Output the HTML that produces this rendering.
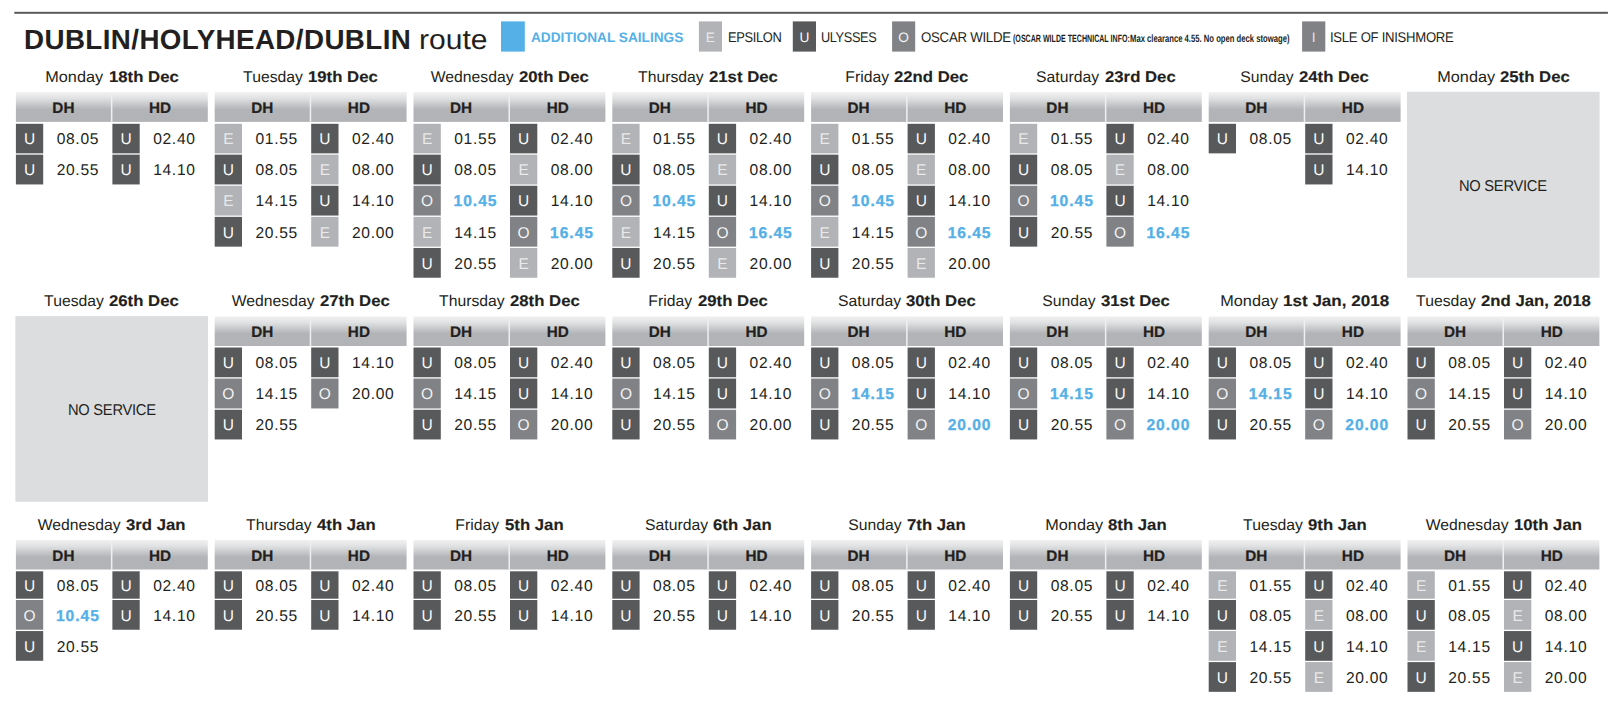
<!DOCTYPE html>
<html lang="en">
<head>
<meta charset="utf-8">
<title>DUBLIN/HOLYHEAD/DUBLIN route</title>
<style>
html,body{margin:0;padding:0;background:#fff;}
body{width:1621px;height:707px;position:relative;overflow:hidden;font-family:"Liberation Sans",sans-serif;color:#231f20;text-rendering:geometricPrecision;}
svg{position:absolute;left:0;top:0;}
h1,h2{margin:0;font-weight:400;font-size:inherit;}
.a{position:absolute;white-space:nowrap;line-height:1;transform-origin:0 50%;}
.t{position:absolute;white-space:nowrap;line-height:1;font-size:15.5px;font-weight:400;margin:0;text-align:center;width:191.9px;}
.t span{display:inline-block;transform:scaleX(1.015);transform-origin:100% 50%;}
.t b{display:inline-block;transform:scaleX(1.08);transform-origin:0 50%;margin-left:1px;-webkit-text-stroke:0.15px #231f20;}
.hl{position:absolute;-webkit-text-stroke:0.2px #231f20;font-weight:700;font-size:15.3px;line-height:1;text-align:center;white-space:nowrap;}
.b{position:absolute;text-align:center;font-size:15.5px;line-height:1;width:27.3px;}
.m{position:absolute;white-space:nowrap;font-size:15.6px;line-height:1;text-align:center;width:70px;letter-spacing:0.7px;}
.m.x{color:#54b0e6;font-weight:700;letter-spacing:0.95px;-webkit-text-stroke:0.3px #54b0e6;}
</style>
</head>
<body>
<svg width="1621" height="707" viewBox="0 0 1621 707">
<defs><linearGradient id="hg" x1="0" y1="0" x2="0" y2="1"><stop offset="0" stop-color="#f1f1f2"/><stop offset="0.2" stop-color="#e1e2e3"/><stop offset="0.58" stop-color="#b2b4b7"/><stop offset="1" stop-color="#b1b3b6"/></linearGradient></defs>
<rect x="14.30" y="11.80" width="1593.60" height="2.00" fill="#58595b"/>
<rect x="501.00" y="21.40" width="23.80" height="30.20" fill="#54b0e6"/>
<rect x="698.90" y="21.40" width="23.10" height="30.20" fill="#b1b3b6"/>
<rect x="792.80" y="21.40" width="23.20" height="30.20" fill="#58595b"/>
<rect x="892.10" y="21.40" width="23.10" height="30.20" fill="#808285"/>
<rect x="1302.10" y="21.40" width="23.20" height="30.20" fill="#808285"/>
<rect x="15.90" y="92.10" width="191.90" height="29.80" fill="url(#hg)"/>
<rect x="110.90" y="92.10" width="1.50" height="29.80" fill="#efeff0"/>
<rect x="15.90" y="123.80" width="27.30" height="29.55" fill="#58595b"/>
<rect x="15.90" y="154.65" width="27.30" height="29.80" fill="#58595b"/>
<rect x="112.40" y="123.80" width="27.30" height="29.55" fill="#58595b"/>
<rect x="112.40" y="154.65" width="27.30" height="29.80" fill="#58595b"/>
<rect x="214.70" y="92.10" width="191.90" height="29.80" fill="url(#hg)"/>
<rect x="309.70" y="92.10" width="1.50" height="29.80" fill="#efeff0"/>
<rect x="214.70" y="123.80" width="27.30" height="29.55" fill="#b1b3b6"/>
<rect x="214.70" y="154.65" width="27.30" height="29.80" fill="#58595b"/>
<rect x="214.70" y="185.75" width="27.30" height="29.80" fill="#b1b3b6"/>
<rect x="214.70" y="216.85" width="27.30" height="29.80" fill="#58595b"/>
<rect x="311.20" y="123.80" width="27.30" height="29.55" fill="#58595b"/>
<rect x="311.20" y="154.65" width="27.30" height="29.80" fill="#b1b3b6"/>
<rect x="311.20" y="185.75" width="27.30" height="29.80" fill="#58595b"/>
<rect x="311.20" y="216.85" width="27.30" height="29.80" fill="#b1b3b6"/>
<rect x="413.50" y="92.10" width="191.90" height="29.80" fill="url(#hg)"/>
<rect x="508.50" y="92.10" width="1.50" height="29.80" fill="#efeff0"/>
<rect x="413.50" y="123.80" width="27.30" height="29.55" fill="#b1b3b6"/>
<rect x="413.50" y="154.65" width="27.30" height="29.80" fill="#58595b"/>
<rect x="413.50" y="185.75" width="27.30" height="29.80" fill="#808285"/>
<rect x="413.50" y="216.85" width="27.30" height="29.80" fill="#b1b3b6"/>
<rect x="413.50" y="247.95" width="27.30" height="29.80" fill="#58595b"/>
<rect x="510.00" y="123.80" width="27.30" height="29.55" fill="#58595b"/>
<rect x="510.00" y="154.65" width="27.30" height="29.80" fill="#b1b3b6"/>
<rect x="510.00" y="185.75" width="27.30" height="29.80" fill="#58595b"/>
<rect x="510.00" y="216.85" width="27.30" height="29.80" fill="#808285"/>
<rect x="510.00" y="247.95" width="27.30" height="29.80" fill="#b1b3b6"/>
<rect x="612.30" y="92.10" width="191.90" height="29.80" fill="url(#hg)"/>
<rect x="707.30" y="92.10" width="1.50" height="29.80" fill="#efeff0"/>
<rect x="612.30" y="123.80" width="27.30" height="29.55" fill="#b1b3b6"/>
<rect x="612.30" y="154.65" width="27.30" height="29.80" fill="#58595b"/>
<rect x="612.30" y="185.75" width="27.30" height="29.80" fill="#808285"/>
<rect x="612.30" y="216.85" width="27.30" height="29.80" fill="#b1b3b6"/>
<rect x="612.30" y="247.95" width="27.30" height="29.80" fill="#58595b"/>
<rect x="708.80" y="123.80" width="27.30" height="29.55" fill="#58595b"/>
<rect x="708.80" y="154.65" width="27.30" height="29.80" fill="#b1b3b6"/>
<rect x="708.80" y="185.75" width="27.30" height="29.80" fill="#58595b"/>
<rect x="708.80" y="216.85" width="27.30" height="29.80" fill="#808285"/>
<rect x="708.80" y="247.95" width="27.30" height="29.80" fill="#b1b3b6"/>
<rect x="811.10" y="92.10" width="191.90" height="29.80" fill="url(#hg)"/>
<rect x="906.10" y="92.10" width="1.50" height="29.80" fill="#efeff0"/>
<rect x="811.10" y="123.80" width="27.30" height="29.55" fill="#b1b3b6"/>
<rect x="811.10" y="154.65" width="27.30" height="29.80" fill="#58595b"/>
<rect x="811.10" y="185.75" width="27.30" height="29.80" fill="#808285"/>
<rect x="811.10" y="216.85" width="27.30" height="29.80" fill="#b1b3b6"/>
<rect x="811.10" y="247.95" width="27.30" height="29.80" fill="#58595b"/>
<rect x="907.60" y="123.80" width="27.30" height="29.55" fill="#58595b"/>
<rect x="907.60" y="154.65" width="27.30" height="29.80" fill="#b1b3b6"/>
<rect x="907.60" y="185.75" width="27.30" height="29.80" fill="#58595b"/>
<rect x="907.60" y="216.85" width="27.30" height="29.80" fill="#808285"/>
<rect x="907.60" y="247.95" width="27.30" height="29.80" fill="#b1b3b6"/>
<rect x="1009.90" y="92.10" width="191.90" height="29.80" fill="url(#hg)"/>
<rect x="1104.90" y="92.10" width="1.50" height="29.80" fill="#efeff0"/>
<rect x="1009.90" y="123.80" width="27.30" height="29.55" fill="#b1b3b6"/>
<rect x="1009.90" y="154.65" width="27.30" height="29.80" fill="#58595b"/>
<rect x="1009.90" y="185.75" width="27.30" height="29.80" fill="#808285"/>
<rect x="1009.90" y="216.85" width="27.30" height="29.80" fill="#58595b"/>
<rect x="1106.40" y="123.80" width="27.30" height="29.55" fill="#58595b"/>
<rect x="1106.40" y="154.65" width="27.30" height="29.80" fill="#b1b3b6"/>
<rect x="1106.40" y="185.75" width="27.30" height="29.80" fill="#58595b"/>
<rect x="1106.40" y="216.85" width="27.30" height="29.80" fill="#808285"/>
<rect x="1208.70" y="92.10" width="191.90" height="29.80" fill="url(#hg)"/>
<rect x="1303.70" y="92.10" width="1.50" height="29.80" fill="#efeff0"/>
<rect x="1208.70" y="123.80" width="27.30" height="29.55" fill="#58595b"/>
<rect x="1305.20" y="123.80" width="27.30" height="29.55" fill="#58595b"/>
<rect x="1305.20" y="154.65" width="27.30" height="29.80" fill="#58595b"/>
<rect x="1407.00" y="91.80" width="192.60" height="185.90" fill="#dcddde"/>
<rect x="15.40" y="316.10" width="192.60" height="185.60" fill="#dcddde"/>
<rect x="214.70" y="316.40" width="191.90" height="29.60" fill="url(#hg)"/>
<rect x="309.70" y="316.40" width="1.50" height="29.60" fill="#efeff0"/>
<rect x="214.70" y="347.50" width="27.30" height="29.75" fill="#58595b"/>
<rect x="214.70" y="378.55" width="27.30" height="29.90" fill="#808285"/>
<rect x="214.70" y="409.75" width="27.30" height="29.70" fill="#58595b"/>
<rect x="311.20" y="347.50" width="27.30" height="29.75" fill="#58595b"/>
<rect x="311.20" y="378.55" width="27.30" height="29.90" fill="#808285"/>
<rect x="413.50" y="316.40" width="191.90" height="29.60" fill="url(#hg)"/>
<rect x="508.50" y="316.40" width="1.50" height="29.60" fill="#efeff0"/>
<rect x="413.50" y="347.50" width="27.30" height="29.75" fill="#58595b"/>
<rect x="413.50" y="378.55" width="27.30" height="29.90" fill="#808285"/>
<rect x="413.50" y="409.75" width="27.30" height="29.70" fill="#58595b"/>
<rect x="510.00" y="347.50" width="27.30" height="29.75" fill="#58595b"/>
<rect x="510.00" y="378.55" width="27.30" height="29.90" fill="#58595b"/>
<rect x="510.00" y="409.75" width="27.30" height="29.70" fill="#808285"/>
<rect x="612.30" y="316.40" width="191.90" height="29.60" fill="url(#hg)"/>
<rect x="707.30" y="316.40" width="1.50" height="29.60" fill="#efeff0"/>
<rect x="612.30" y="347.50" width="27.30" height="29.75" fill="#58595b"/>
<rect x="612.30" y="378.55" width="27.30" height="29.90" fill="#808285"/>
<rect x="612.30" y="409.75" width="27.30" height="29.70" fill="#58595b"/>
<rect x="708.80" y="347.50" width="27.30" height="29.75" fill="#58595b"/>
<rect x="708.80" y="378.55" width="27.30" height="29.90" fill="#58595b"/>
<rect x="708.80" y="409.75" width="27.30" height="29.70" fill="#808285"/>
<rect x="811.10" y="316.40" width="191.90" height="29.60" fill="url(#hg)"/>
<rect x="906.10" y="316.40" width="1.50" height="29.60" fill="#efeff0"/>
<rect x="811.10" y="347.50" width="27.30" height="29.75" fill="#58595b"/>
<rect x="811.10" y="378.55" width="27.30" height="29.90" fill="#808285"/>
<rect x="811.10" y="409.75" width="27.30" height="29.70" fill="#58595b"/>
<rect x="907.60" y="347.50" width="27.30" height="29.75" fill="#58595b"/>
<rect x="907.60" y="378.55" width="27.30" height="29.90" fill="#58595b"/>
<rect x="907.60" y="409.75" width="27.30" height="29.70" fill="#808285"/>
<rect x="1009.90" y="316.40" width="191.90" height="29.60" fill="url(#hg)"/>
<rect x="1104.90" y="316.40" width="1.50" height="29.60" fill="#efeff0"/>
<rect x="1009.90" y="347.50" width="27.30" height="29.75" fill="#58595b"/>
<rect x="1009.90" y="378.55" width="27.30" height="29.90" fill="#808285"/>
<rect x="1009.90" y="409.75" width="27.30" height="29.70" fill="#58595b"/>
<rect x="1106.40" y="347.50" width="27.30" height="29.75" fill="#58595b"/>
<rect x="1106.40" y="378.55" width="27.30" height="29.90" fill="#58595b"/>
<rect x="1106.40" y="409.75" width="27.30" height="29.70" fill="#808285"/>
<rect x="1208.70" y="316.40" width="191.90" height="29.60" fill="url(#hg)"/>
<rect x="1303.70" y="316.40" width="1.50" height="29.60" fill="#efeff0"/>
<rect x="1208.70" y="347.50" width="27.30" height="29.75" fill="#58595b"/>
<rect x="1208.70" y="378.55" width="27.30" height="29.90" fill="#808285"/>
<rect x="1208.70" y="409.75" width="27.30" height="29.70" fill="#58595b"/>
<rect x="1305.20" y="347.50" width="27.30" height="29.75" fill="#58595b"/>
<rect x="1305.20" y="378.55" width="27.30" height="29.90" fill="#58595b"/>
<rect x="1305.20" y="409.75" width="27.30" height="29.70" fill="#808285"/>
<rect x="1407.50" y="316.40" width="191.90" height="29.60" fill="url(#hg)"/>
<rect x="1502.50" y="316.40" width="1.50" height="29.60" fill="#efeff0"/>
<rect x="1407.50" y="347.50" width="27.30" height="29.75" fill="#58595b"/>
<rect x="1407.50" y="378.55" width="27.30" height="29.90" fill="#808285"/>
<rect x="1407.50" y="409.75" width="27.30" height="29.70" fill="#58595b"/>
<rect x="1504.00" y="347.50" width="27.30" height="29.75" fill="#58595b"/>
<rect x="1504.00" y="378.55" width="27.30" height="29.90" fill="#58595b"/>
<rect x="1504.00" y="409.75" width="27.30" height="29.70" fill="#808285"/>
<rect x="15.90" y="540.00" width="191.90" height="29.50" fill="url(#hg)"/>
<rect x="110.90" y="540.00" width="1.50" height="29.50" fill="#efeff0"/>
<rect x="15.90" y="571.30" width="27.30" height="27.40" fill="#58595b"/>
<rect x="15.90" y="600.00" width="27.30" height="29.75" fill="#808285"/>
<rect x="15.90" y="631.05" width="27.30" height="29.75" fill="#58595b"/>
<rect x="112.40" y="571.30" width="27.30" height="27.40" fill="#58595b"/>
<rect x="112.40" y="600.00" width="27.30" height="29.75" fill="#58595b"/>
<rect x="214.70" y="540.00" width="191.90" height="29.50" fill="url(#hg)"/>
<rect x="309.70" y="540.00" width="1.50" height="29.50" fill="#efeff0"/>
<rect x="214.70" y="571.30" width="27.30" height="27.40" fill="#58595b"/>
<rect x="214.70" y="600.00" width="27.30" height="29.75" fill="#58595b"/>
<rect x="311.20" y="571.30" width="27.30" height="27.40" fill="#58595b"/>
<rect x="311.20" y="600.00" width="27.30" height="29.75" fill="#58595b"/>
<rect x="413.50" y="540.00" width="191.90" height="29.50" fill="url(#hg)"/>
<rect x="508.50" y="540.00" width="1.50" height="29.50" fill="#efeff0"/>
<rect x="413.50" y="571.30" width="27.30" height="27.40" fill="#58595b"/>
<rect x="413.50" y="600.00" width="27.30" height="29.75" fill="#58595b"/>
<rect x="510.00" y="571.30" width="27.30" height="27.40" fill="#58595b"/>
<rect x="510.00" y="600.00" width="27.30" height="29.75" fill="#58595b"/>
<rect x="612.30" y="540.00" width="191.90" height="29.50" fill="url(#hg)"/>
<rect x="707.30" y="540.00" width="1.50" height="29.50" fill="#efeff0"/>
<rect x="612.30" y="571.30" width="27.30" height="27.40" fill="#58595b"/>
<rect x="612.30" y="600.00" width="27.30" height="29.75" fill="#58595b"/>
<rect x="708.80" y="571.30" width="27.30" height="27.40" fill="#58595b"/>
<rect x="708.80" y="600.00" width="27.30" height="29.75" fill="#58595b"/>
<rect x="811.10" y="540.00" width="191.90" height="29.50" fill="url(#hg)"/>
<rect x="906.10" y="540.00" width="1.50" height="29.50" fill="#efeff0"/>
<rect x="811.10" y="571.30" width="27.30" height="27.40" fill="#58595b"/>
<rect x="811.10" y="600.00" width="27.30" height="29.75" fill="#58595b"/>
<rect x="907.60" y="571.30" width="27.30" height="27.40" fill="#58595b"/>
<rect x="907.60" y="600.00" width="27.30" height="29.75" fill="#58595b"/>
<rect x="1009.90" y="540.00" width="191.90" height="29.50" fill="url(#hg)"/>
<rect x="1104.90" y="540.00" width="1.50" height="29.50" fill="#efeff0"/>
<rect x="1009.90" y="571.30" width="27.30" height="27.40" fill="#58595b"/>
<rect x="1009.90" y="600.00" width="27.30" height="29.75" fill="#58595b"/>
<rect x="1106.40" y="571.30" width="27.30" height="27.40" fill="#58595b"/>
<rect x="1106.40" y="600.00" width="27.30" height="29.75" fill="#58595b"/>
<rect x="1208.70" y="540.00" width="191.90" height="29.50" fill="url(#hg)"/>
<rect x="1303.70" y="540.00" width="1.50" height="29.50" fill="#efeff0"/>
<rect x="1208.70" y="571.30" width="27.30" height="27.40" fill="#b1b3b6"/>
<rect x="1208.70" y="600.00" width="27.30" height="29.75" fill="#58595b"/>
<rect x="1208.70" y="631.05" width="27.30" height="29.75" fill="#b1b3b6"/>
<rect x="1208.70" y="662.10" width="27.30" height="29.75" fill="#58595b"/>
<rect x="1305.20" y="571.30" width="27.30" height="27.40" fill="#58595b"/>
<rect x="1305.20" y="600.00" width="27.30" height="29.75" fill="#b1b3b6"/>
<rect x="1305.20" y="631.05" width="27.30" height="29.75" fill="#58595b"/>
<rect x="1305.20" y="662.10" width="27.30" height="29.75" fill="#b1b3b6"/>
<rect x="1407.50" y="540.00" width="191.90" height="29.50" fill="url(#hg)"/>
<rect x="1502.50" y="540.00" width="1.50" height="29.50" fill="#efeff0"/>
<rect x="1407.50" y="571.30" width="27.30" height="27.40" fill="#b1b3b6"/>
<rect x="1407.50" y="600.00" width="27.30" height="29.75" fill="#58595b"/>
<rect x="1407.50" y="631.05" width="27.30" height="29.75" fill="#b1b3b6"/>
<rect x="1407.50" y="662.10" width="27.30" height="29.75" fill="#58595b"/>
<rect x="1504.00" y="571.30" width="27.30" height="27.40" fill="#58595b"/>
<rect x="1504.00" y="600.00" width="27.30" height="29.75" fill="#b1b3b6"/>
<rect x="1504.00" y="631.05" width="27.30" height="29.75" fill="#58595b"/>
<rect x="1504.00" y="662.10" width="27.30" height="29.75" fill="#b1b3b6"/>
</svg>
<header>
<h1>
<div class="a" style="left:24.20px;top:26px;font-size:27.8px;font-weight:700;letter-spacing:0.4px;transform:scaleX(0.9988)">DUBLIN/HOLYHEAD/DUBLIN</div>
<div class="a" style="left:418.70px;top:26px;font-size:28.0px;transform:scaleX(1.0733)">route</div>
</h1>
<div class="legend">
<div class="a" style="left:531.20px;top:31px;font-size:13.7px;font-weight:700;color:#54b0e6;transform:scaleX(0.9983)">ADDITIONAL SAILINGS</div>
<div class="b" style="left:698.90px;width:23.10px;top:31px;font-size:13.7px;color:#e9e9ea">E</div>
<div class="a" style="left:727.61px;top:30px;font-size:14.1px;letter-spacing:-0.4px;transform:scaleX(0.9147)">EPSILON</div>
<div class="b" style="left:792.80px;width:23.20px;top:31px;font-size:13.7px;color:#fbfbfb">U</div>
<div class="a" style="left:821.04px;top:30px;font-size:14.1px;letter-spacing:-0.4px;transform:scaleX(0.9038)">ULYSSES</div>
<div class="b" style="left:892.10px;width:23.10px;top:31px;font-size:13.7px;color:#f4f4f5">O</div>
<div class="a" style="left:920.54px;top:30px;font-size:14.1px;letter-spacing:-0.3px;transform:scaleX(0.9417)">OSCAR WILDE</div>
<div class="a" style="left:1012.97px;top:34px;font-size:10.6px;font-weight:700;transform:scaleX(0.6692)">(OSCAR WILDE TECHNICAL INFO:</div>
<div class="a" style="left:1130.36px;top:34px;font-size:10.6px;font-weight:700;transform:scaleX(0.7243)">Max clearance 4.55. No open deck stowage)</div>
<div class="b" style="left:1302.10px;width:23.20px;top:31px;font-size:13.7px;color:#e6e7e8">I</div>
<div class="a" style="left:1330.34px;top:30px;font-size:14.1px;letter-spacing:-0.3px;transform:scaleX(0.9302)">ISLE OF INISHMORE</div>
</div>
</header>
<main>
<section class="day">
<h2 class="t" style="left:15.90px;top:70px"><span style="margin-left:2.76px;transform:scaleX(1.05)">Monday</span> <b style="margin-right:5.17px">18th Dec</b></h2>
<div class="hl" style="left:15.90px;width:95.0px;top:101px">DH</div>
<div class="hl" style="left:112.40px;width:95.40px;top:101px">HD</div>
<div class="b" style="left:15.90px;top:132px;color:#fbfbfb">U</div>
<div class="m" style="left:42.90px;top:132px">08.05</div>
<div class="b" style="left:15.90px;top:163px;color:#fbfbfb">U</div>
<div class="m" style="left:42.90px;top:163px">20.55</div>
<div class="b" style="left:112.40px;top:132px;color:#fbfbfb">U</div>
<div class="m" style="left:139.40px;top:132px">02.40</div>
<div class="b" style="left:112.40px;top:163px;color:#fbfbfb">U</div>
<div class="m" style="left:139.40px;top:163px">14.10</div>
</section>
<section class="day">
<h2 class="t" style="left:214.70px;top:70px"><span style="margin-left:0.88px">Tuesday</span> <b style="margin-right:5.17px">19th Dec</b></h2>
<div class="hl" style="left:214.70px;width:95.0px;top:101px">DH</div>
<div class="hl" style="left:311.20px;width:95.40px;top:101px">HD</div>
<div class="b" style="left:214.70px;top:132px;color:#e9e9ea">E</div>
<div class="m" style="left:241.70px;top:132px">01.55</div>
<div class="b" style="left:214.70px;top:163px;color:#fbfbfb">U</div>
<div class="m" style="left:241.70px;top:163px">08.05</div>
<div class="b" style="left:214.70px;top:194px;color:#e9e9ea">E</div>
<div class="m" style="left:241.70px;top:194px">14.15</div>
<div class="b" style="left:214.70px;top:226px;color:#fbfbfb">U</div>
<div class="m" style="left:241.70px;top:226px">20.55</div>
<div class="b" style="left:311.20px;top:132px;color:#fbfbfb">U</div>
<div class="m" style="left:338.20px;top:132px">02.40</div>
<div class="b" style="left:311.20px;top:163px;color:#e9e9ea">E</div>
<div class="m" style="left:338.20px;top:163px">08.00</div>
<div class="b" style="left:311.20px;top:194px;color:#fbfbfb">U</div>
<div class="m" style="left:338.20px;top:194px">14.10</div>
<div class="b" style="left:311.20px;top:226px;color:#e9e9ea">E</div>
<div class="m" style="left:338.20px;top:226px">20.00</div>
</section>
<section class="day">
<h2 class="t" style="left:413.50px;top:70px"><span style="margin-left:1.22px">Wednesday</span> <b style="margin-right:5.17px">20th Dec</b></h2>
<div class="hl" style="left:413.50px;width:95.0px;top:101px">DH</div>
<div class="hl" style="left:510.00px;width:95.40px;top:101px">HD</div>
<div class="b" style="left:413.50px;top:132px;color:#e9e9ea">E</div>
<div class="m" style="left:440.50px;top:132px">01.55</div>
<div class="b" style="left:413.50px;top:163px;color:#fbfbfb">U</div>
<div class="m" style="left:440.50px;top:163px">08.05</div>
<div class="b" style="left:413.50px;top:194px;color:#f4f4f5">O</div>
<div class="m x" style="left:440.50px;top:194px">10.45</div>
<div class="b" style="left:413.50px;top:226px;color:#e9e9ea">E</div>
<div class="m" style="left:440.50px;top:226px">14.15</div>
<div class="b" style="left:413.50px;top:257px;color:#fbfbfb">U</div>
<div class="m" style="left:440.50px;top:257px">20.55</div>
<div class="b" style="left:510.00px;top:132px;color:#fbfbfb">U</div>
<div class="m" style="left:537.00px;top:132px">02.40</div>
<div class="b" style="left:510.00px;top:163px;color:#e9e9ea">E</div>
<div class="m" style="left:537.00px;top:163px">08.00</div>
<div class="b" style="left:510.00px;top:194px;color:#fbfbfb">U</div>
<div class="m" style="left:537.00px;top:194px">14.10</div>
<div class="b" style="left:510.00px;top:226px;color:#f4f4f5">O</div>
<div class="m x" style="left:537.00px;top:226px">16.45</div>
<div class="b" style="left:510.00px;top:257px;color:#e9e9ea">E</div>
<div class="m" style="left:537.00px;top:257px">20.00</div>
</section>
<section class="day">
<h2 class="t" style="left:612.30px;top:70px"><span style="margin-left:0.97px">Thursday</span> <b style="margin-right:5.10px">21st Dec</b></h2>
<div class="hl" style="left:612.30px;width:95.0px;top:101px">DH</div>
<div class="hl" style="left:708.80px;width:95.40px;top:101px">HD</div>
<div class="b" style="left:612.30px;top:132px;color:#e9e9ea">E</div>
<div class="m" style="left:639.30px;top:132px">01.55</div>
<div class="b" style="left:612.30px;top:163px;color:#fbfbfb">U</div>
<div class="m" style="left:639.30px;top:163px">08.05</div>
<div class="b" style="left:612.30px;top:194px;color:#f4f4f5">O</div>
<div class="m x" style="left:639.30px;top:194px">10.45</div>
<div class="b" style="left:612.30px;top:226px;color:#e9e9ea">E</div>
<div class="m" style="left:639.30px;top:226px">14.15</div>
<div class="b" style="left:612.30px;top:257px;color:#fbfbfb">U</div>
<div class="m" style="left:639.30px;top:257px">20.55</div>
<div class="b" style="left:708.80px;top:132px;color:#fbfbfb">U</div>
<div class="m" style="left:735.80px;top:132px">02.40</div>
<div class="b" style="left:708.80px;top:163px;color:#e9e9ea">E</div>
<div class="m" style="left:735.80px;top:163px">08.00</div>
<div class="b" style="left:708.80px;top:194px;color:#fbfbfb">U</div>
<div class="m" style="left:735.80px;top:194px">14.10</div>
<div class="b" style="left:708.80px;top:226px;color:#f4f4f5">O</div>
<div class="m x" style="left:735.80px;top:226px">16.45</div>
<div class="b" style="left:708.80px;top:257px;color:#e9e9ea">E</div>
<div class="m" style="left:735.80px;top:257px">20.00</div>
</section>
<section class="day">
<h2 class="t" style="left:811.10px;top:70px"><span style="margin-left:0.65px">Friday</span> <b style="margin-right:5.51px">22nd Dec</b></h2>
<div class="hl" style="left:811.10px;width:95.0px;top:101px">DH</div>
<div class="hl" style="left:907.60px;width:95.40px;top:101px">HD</div>
<div class="b" style="left:811.10px;top:132px;color:#e9e9ea">E</div>
<div class="m" style="left:838.10px;top:132px">01.55</div>
<div class="b" style="left:811.10px;top:163px;color:#fbfbfb">U</div>
<div class="m" style="left:838.10px;top:163px">08.05</div>
<div class="b" style="left:811.10px;top:194px;color:#f4f4f5">O</div>
<div class="m x" style="left:838.10px;top:194px">10.45</div>
<div class="b" style="left:811.10px;top:226px;color:#e9e9ea">E</div>
<div class="m" style="left:838.10px;top:226px">14.15</div>
<div class="b" style="left:811.10px;top:257px;color:#fbfbfb">U</div>
<div class="m" style="left:838.10px;top:257px">20.55</div>
<div class="b" style="left:907.60px;top:132px;color:#fbfbfb">U</div>
<div class="m" style="left:934.60px;top:132px">02.40</div>
<div class="b" style="left:907.60px;top:163px;color:#e9e9ea">E</div>
<div class="m" style="left:934.60px;top:163px">08.00</div>
<div class="b" style="left:907.60px;top:194px;color:#fbfbfb">U</div>
<div class="m" style="left:934.60px;top:194px">14.10</div>
<div class="b" style="left:907.60px;top:226px;color:#f4f4f5">O</div>
<div class="m x" style="left:934.60px;top:226px">16.45</div>
<div class="b" style="left:907.60px;top:257px;color:#e9e9ea">E</div>
<div class="m" style="left:934.60px;top:257px">20.00</div>
</section>
<section class="day">
<h2 class="t" style="left:1009.90px;top:70px"><span style="margin-left:0.93px">Saturday</span> <b style="margin-right:5.24px">23rd Dec</b></h2>
<div class="hl" style="left:1009.90px;width:95.0px;top:101px">DH</div>
<div class="hl" style="left:1106.40px;width:95.40px;top:101px">HD</div>
<div class="b" style="left:1009.90px;top:132px;color:#e9e9ea">E</div>
<div class="m" style="left:1036.90px;top:132px">01.55</div>
<div class="b" style="left:1009.90px;top:163px;color:#fbfbfb">U</div>
<div class="m" style="left:1036.90px;top:163px">08.05</div>
<div class="b" style="left:1009.90px;top:194px;color:#f4f4f5">O</div>
<div class="m x" style="left:1036.90px;top:194px">10.45</div>
<div class="b" style="left:1009.90px;top:226px;color:#fbfbfb">U</div>
<div class="m" style="left:1036.90px;top:226px">20.55</div>
<div class="b" style="left:1106.40px;top:132px;color:#fbfbfb">U</div>
<div class="m" style="left:1133.40px;top:132px">02.40</div>
<div class="b" style="left:1106.40px;top:163px;color:#e9e9ea">E</div>
<div class="m" style="left:1133.40px;top:163px">08.00</div>
<div class="b" style="left:1106.40px;top:194px;color:#fbfbfb">U</div>
<div class="m" style="left:1133.40px;top:194px">14.10</div>
<div class="b" style="left:1106.40px;top:226px;color:#f4f4f5">O</div>
<div class="m x" style="left:1133.40px;top:226px">16.45</div>
</section>
<section class="day">
<h2 class="t" style="left:1208.70px;top:70px"><span style="margin-left:0.79px">Sunday</span> <b style="margin-right:5.17px">24th Dec</b></h2>
<div class="hl" style="left:1208.70px;width:95.0px;top:101px">DH</div>
<div class="hl" style="left:1305.20px;width:95.40px;top:101px">HD</div>
<div class="b" style="left:1208.70px;top:132px;color:#fbfbfb">U</div>
<div class="m" style="left:1235.70px;top:132px">08.05</div>
<div class="b" style="left:1305.20px;top:132px;color:#fbfbfb">U</div>
<div class="m" style="left:1332.20px;top:132px">02.40</div>
<div class="b" style="left:1305.20px;top:163px;color:#fbfbfb">U</div>
<div class="m" style="left:1332.20px;top:163px">14.10</div>
</section>
<section class="day">
<h2 class="t" style="left:1407.50px;top:70px"><span style="margin-left:2.76px;transform:scaleX(1.05)">Monday</span> <b style="margin-right:5.17px">25th Dec</b></h2>
<div class="a" style="left:1459.17px;top:179px;font-size:15.6px;letter-spacing:-0.3px;transform:scaleX(0.9438)">NO SERVICE</div>
</section>
<section class="day">
<h2 class="t" style="left:15.90px;top:294px"><span style="margin-left:0.88px">Tuesday</span> <b style="margin-right:5.17px">26th Dec</b></h2>
<div class="a" style="left:67.57px;top:403px;font-size:15.6px;letter-spacing:-0.3px;transform:scaleX(0.9438)">NO SERVICE</div>
</section>
<section class="day">
<h2 class="t" style="left:214.70px;top:294px"><span style="margin-left:1.22px">Wednesday</span> <b style="margin-right:5.17px">27th Dec</b></h2>
<div class="hl" style="left:214.70px;width:95.0px;top:325px">DH</div>
<div class="hl" style="left:311.20px;width:95.40px;top:325px">HD</div>
<div class="b" style="left:214.70px;top:356px;color:#fbfbfb">U</div>
<div class="m" style="left:241.70px;top:356px">08.05</div>
<div class="b" style="left:214.70px;top:387px;color:#f4f4f5">O</div>
<div class="m" style="left:241.70px;top:387px">14.15</div>
<div class="b" style="left:214.70px;top:418px;color:#fbfbfb">U</div>
<div class="m" style="left:241.70px;top:418px">20.55</div>
<div class="b" style="left:311.20px;top:356px;color:#fbfbfb">U</div>
<div class="m" style="left:338.20px;top:356px">14.10</div>
<div class="b" style="left:311.20px;top:387px;color:#f4f4f5">O</div>
<div class="m" style="left:338.20px;top:387px">20.00</div>
</section>
<section class="day">
<h2 class="t" style="left:413.50px;top:294px"><span style="margin-left:0.97px">Thursday</span> <b style="margin-right:5.17px">28th Dec</b></h2>
<div class="hl" style="left:413.50px;width:95.0px;top:325px">DH</div>
<div class="hl" style="left:510.00px;width:95.40px;top:325px">HD</div>
<div class="b" style="left:413.50px;top:356px;color:#fbfbfb">U</div>
<div class="m" style="left:440.50px;top:356px">08.05</div>
<div class="b" style="left:413.50px;top:387px;color:#f4f4f5">O</div>
<div class="m" style="left:440.50px;top:387px">14.15</div>
<div class="b" style="left:413.50px;top:418px;color:#fbfbfb">U</div>
<div class="m" style="left:440.50px;top:418px">20.55</div>
<div class="b" style="left:510.00px;top:356px;color:#fbfbfb">U</div>
<div class="m" style="left:537.00px;top:356px">02.40</div>
<div class="b" style="left:510.00px;top:387px;color:#fbfbfb">U</div>
<div class="m" style="left:537.00px;top:387px">14.10</div>
<div class="b" style="left:510.00px;top:418px;color:#f4f4f5">O</div>
<div class="m" style="left:537.00px;top:418px">20.00</div>
</section>
<section class="day">
<h2 class="t" style="left:612.30px;top:294px"><span style="margin-left:0.65px">Friday</span> <b style="margin-right:5.17px">29th Dec</b></h2>
<div class="hl" style="left:612.30px;width:95.0px;top:325px">DH</div>
<div class="hl" style="left:708.80px;width:95.40px;top:325px">HD</div>
<div class="b" style="left:612.30px;top:356px;color:#fbfbfb">U</div>
<div class="m" style="left:639.30px;top:356px">08.05</div>
<div class="b" style="left:612.30px;top:387px;color:#f4f4f5">O</div>
<div class="m" style="left:639.30px;top:387px">14.15</div>
<div class="b" style="left:612.30px;top:418px;color:#fbfbfb">U</div>
<div class="m" style="left:639.30px;top:418px">20.55</div>
<div class="b" style="left:708.80px;top:356px;color:#fbfbfb">U</div>
<div class="m" style="left:735.80px;top:356px">02.40</div>
<div class="b" style="left:708.80px;top:387px;color:#fbfbfb">U</div>
<div class="m" style="left:735.80px;top:387px">14.10</div>
<div class="b" style="left:708.80px;top:418px;color:#f4f4f5">O</div>
<div class="m" style="left:735.80px;top:418px">20.00</div>
</section>
<section class="day">
<h2 class="t" style="left:811.10px;top:294px"><span style="margin-left:0.93px">Saturday</span> <b style="margin-right:5.17px">30th Dec</b></h2>
<div class="hl" style="left:811.10px;width:95.0px;top:325px">DH</div>
<div class="hl" style="left:907.60px;width:95.40px;top:325px">HD</div>
<div class="b" style="left:811.10px;top:356px;color:#fbfbfb">U</div>
<div class="m" style="left:838.10px;top:356px">08.05</div>
<div class="b" style="left:811.10px;top:387px;color:#f4f4f5">O</div>
<div class="m x" style="left:838.10px;top:387px">14.15</div>
<div class="b" style="left:811.10px;top:418px;color:#fbfbfb">U</div>
<div class="m" style="left:838.10px;top:418px">20.55</div>
<div class="b" style="left:907.60px;top:356px;color:#fbfbfb">U</div>
<div class="m" style="left:934.60px;top:356px">02.40</div>
<div class="b" style="left:907.60px;top:387px;color:#fbfbfb">U</div>
<div class="m" style="left:934.60px;top:387px">14.10</div>
<div class="b" style="left:907.60px;top:418px;color:#f4f4f5">O</div>
<div class="m x" style="left:934.60px;top:418px">20.00</div>
</section>
<section class="day">
<h2 class="t" style="left:1009.90px;top:294px"><span style="margin-left:0.79px">Sunday</span> <b style="margin-right:5.10px">31st Dec</b></h2>
<div class="hl" style="left:1009.90px;width:95.0px;top:325px">DH</div>
<div class="hl" style="left:1106.40px;width:95.40px;top:325px">HD</div>
<div class="b" style="left:1009.90px;top:356px;color:#fbfbfb">U</div>
<div class="m" style="left:1036.90px;top:356px">08.05</div>
<div class="b" style="left:1009.90px;top:387px;color:#f4f4f5">O</div>
<div class="m x" style="left:1036.90px;top:387px">14.15</div>
<div class="b" style="left:1009.90px;top:418px;color:#fbfbfb">U</div>
<div class="m" style="left:1036.90px;top:418px">20.55</div>
<div class="b" style="left:1106.40px;top:356px;color:#fbfbfb">U</div>
<div class="m" style="left:1133.40px;top:356px">02.40</div>
<div class="b" style="left:1106.40px;top:387px;color:#fbfbfb">U</div>
<div class="m" style="left:1133.40px;top:387px">14.10</div>
<div class="b" style="left:1106.40px;top:418px;color:#f4f4f5">O</div>
<div class="m x" style="left:1133.40px;top:418px">20.00</div>
</section>
<section class="day">
<h2 class="t" style="left:1208.70px;top:294px"><span style="margin-left:2.76px;transform:scaleX(1.05)">Monday</span> <b style="margin-right:9.65px;transform:scaleX(1.1)">1st Jan, 2018</b></h2>
<div class="hl" style="left:1208.70px;width:95.0px;top:325px">DH</div>
<div class="hl" style="left:1305.20px;width:95.40px;top:325px">HD</div>
<div class="b" style="left:1208.70px;top:356px;color:#fbfbfb">U</div>
<div class="m" style="left:1235.70px;top:356px">08.05</div>
<div class="b" style="left:1208.70px;top:387px;color:#f4f4f5">O</div>
<div class="m x" style="left:1235.70px;top:387px">14.15</div>
<div class="b" style="left:1208.70px;top:418px;color:#fbfbfb">U</div>
<div class="m" style="left:1235.70px;top:418px">20.55</div>
<div class="b" style="left:1305.20px;top:356px;color:#fbfbfb">U</div>
<div class="m" style="left:1332.20px;top:356px">02.40</div>
<div class="b" style="left:1305.20px;top:387px;color:#fbfbfb">U</div>
<div class="m" style="left:1332.20px;top:387px">14.10</div>
<div class="b" style="left:1305.20px;top:418px;color:#f4f4f5">O</div>
<div class="m x" style="left:1332.20px;top:418px">20.00</div>
</section>
<section class="day">
<h2 class="t" style="left:1407.50px;top:294px"><span style="margin-left:0.88px">Tuesday</span> <b style="margin-right:8.13px">2nd Jan, 2018</b></h2>
<div class="hl" style="left:1407.50px;width:95.0px;top:325px">DH</div>
<div class="hl" style="left:1504.00px;width:95.40px;top:325px">HD</div>
<div class="b" style="left:1407.50px;top:356px;color:#fbfbfb">U</div>
<div class="m" style="left:1434.50px;top:356px">08.05</div>
<div class="b" style="left:1407.50px;top:387px;color:#f4f4f5">O</div>
<div class="m" style="left:1434.50px;top:387px">14.15</div>
<div class="b" style="left:1407.50px;top:418px;color:#fbfbfb">U</div>
<div class="m" style="left:1434.50px;top:418px">20.55</div>
<div class="b" style="left:1504.00px;top:356px;color:#fbfbfb">U</div>
<div class="m" style="left:1531.00px;top:356px">02.40</div>
<div class="b" style="left:1504.00px;top:387px;color:#fbfbfb">U</div>
<div class="m" style="left:1531.00px;top:387px">14.10</div>
<div class="b" style="left:1504.00px;top:418px;color:#f4f4f5">O</div>
<div class="m" style="left:1531.00px;top:418px">20.00</div>
</section>
<section class="day">
<h2 class="t" style="left:15.90px;top:518px"><span style="margin-left:1.22px">Wednesday</span> <b style="margin-right:4.41px">3rd Jan</b></h2>
<div class="hl" style="left:15.90px;width:95.0px;top:549px">DH</div>
<div class="hl" style="left:112.40px;width:95.40px;top:549px">HD</div>
<div class="b" style="left:15.90px;top:579px;color:#fbfbfb">U</div>
<div class="m" style="left:42.90px;top:579px">08.05</div>
<div class="b" style="left:15.90px;top:609px;color:#f4f4f5">O</div>
<div class="m x" style="left:42.90px;top:609px">10.45</div>
<div class="b" style="left:15.90px;top:640px;color:#fbfbfb">U</div>
<div class="m" style="left:42.90px;top:640px">20.55</div>
<div class="b" style="left:112.40px;top:579px;color:#fbfbfb">U</div>
<div class="m" style="left:139.40px;top:579px">02.40</div>
<div class="b" style="left:112.40px;top:609px;color:#fbfbfb">U</div>
<div class="m" style="left:139.40px;top:609px">14.10</div>
</section>
<section class="day">
<h2 class="t" style="left:214.70px;top:518px"><span style="margin-left:0.97px">Thursday</span> <b style="margin-right:4.34px">4th Jan</b></h2>
<div class="hl" style="left:214.70px;width:95.0px;top:549px">DH</div>
<div class="hl" style="left:311.20px;width:95.40px;top:549px">HD</div>
<div class="b" style="left:214.70px;top:579px;color:#fbfbfb">U</div>
<div class="m" style="left:241.70px;top:579px">08.05</div>
<div class="b" style="left:214.70px;top:609px;color:#fbfbfb">U</div>
<div class="m" style="left:241.70px;top:609px">20.55</div>
<div class="b" style="left:311.20px;top:579px;color:#fbfbfb">U</div>
<div class="m" style="left:338.20px;top:579px">02.40</div>
<div class="b" style="left:311.20px;top:609px;color:#fbfbfb">U</div>
<div class="m" style="left:338.20px;top:609px">14.10</div>
</section>
<section class="day">
<h2 class="t" style="left:413.50px;top:518px"><span style="margin-left:0.65px">Friday</span> <b style="margin-right:4.34px">5th Jan</b></h2>
<div class="hl" style="left:413.50px;width:95.0px;top:549px">DH</div>
<div class="hl" style="left:510.00px;width:95.40px;top:549px">HD</div>
<div class="b" style="left:413.50px;top:579px;color:#fbfbfb">U</div>
<div class="m" style="left:440.50px;top:579px">08.05</div>
<div class="b" style="left:413.50px;top:609px;color:#fbfbfb">U</div>
<div class="m" style="left:440.50px;top:609px">20.55</div>
<div class="b" style="left:510.00px;top:579px;color:#fbfbfb">U</div>
<div class="m" style="left:537.00px;top:579px">02.40</div>
<div class="b" style="left:510.00px;top:609px;color:#fbfbfb">U</div>
<div class="m" style="left:537.00px;top:609px">14.10</div>
</section>
<section class="day">
<h2 class="t" style="left:612.30px;top:518px"><span style="margin-left:0.93px">Saturday</span> <b style="margin-right:4.34px">6th Jan</b></h2>
<div class="hl" style="left:612.30px;width:95.0px;top:549px">DH</div>
<div class="hl" style="left:708.80px;width:95.40px;top:549px">HD</div>
<div class="b" style="left:612.30px;top:579px;color:#fbfbfb">U</div>
<div class="m" style="left:639.30px;top:579px">08.05</div>
<div class="b" style="left:612.30px;top:609px;color:#fbfbfb">U</div>
<div class="m" style="left:639.30px;top:609px">20.55</div>
<div class="b" style="left:708.80px;top:579px;color:#fbfbfb">U</div>
<div class="m" style="left:735.80px;top:579px">02.40</div>
<div class="b" style="left:708.80px;top:609px;color:#fbfbfb">U</div>
<div class="m" style="left:735.80px;top:609px">14.10</div>
</section>
<section class="day">
<h2 class="t" style="left:811.10px;top:518px"><span style="margin-left:0.79px">Sunday</span> <b style="margin-right:4.34px">7th Jan</b></h2>
<div class="hl" style="left:811.10px;width:95.0px;top:549px">DH</div>
<div class="hl" style="left:907.60px;width:95.40px;top:549px">HD</div>
<div class="b" style="left:811.10px;top:579px;color:#fbfbfb">U</div>
<div class="m" style="left:838.10px;top:579px">08.05</div>
<div class="b" style="left:811.10px;top:609px;color:#fbfbfb">U</div>
<div class="m" style="left:838.10px;top:609px">20.55</div>
<div class="b" style="left:907.60px;top:579px;color:#fbfbfb">U</div>
<div class="m" style="left:934.60px;top:579px">02.40</div>
<div class="b" style="left:907.60px;top:609px;color:#fbfbfb">U</div>
<div class="m" style="left:934.60px;top:609px">14.10</div>
</section>
<section class="day">
<h2 class="t" style="left:1009.90px;top:518px"><span style="margin-left:2.76px;transform:scaleX(1.05)">Monday</span> <b style="margin-right:4.34px">8th Jan</b></h2>
<div class="hl" style="left:1009.90px;width:95.0px;top:549px">DH</div>
<div class="hl" style="left:1106.40px;width:95.40px;top:549px">HD</div>
<div class="b" style="left:1009.90px;top:579px;color:#fbfbfb">U</div>
<div class="m" style="left:1036.90px;top:579px">08.05</div>
<div class="b" style="left:1009.90px;top:609px;color:#fbfbfb">U</div>
<div class="m" style="left:1036.90px;top:609px">20.55</div>
<div class="b" style="left:1106.40px;top:579px;color:#fbfbfb">U</div>
<div class="m" style="left:1133.40px;top:579px">02.40</div>
<div class="b" style="left:1106.40px;top:609px;color:#fbfbfb">U</div>
<div class="m" style="left:1133.40px;top:609px">14.10</div>
</section>
<section class="day">
<h2 class="t" style="left:1208.70px;top:518px"><span style="margin-left:0.88px">Tuesday</span> <b style="margin-right:4.34px">9th Jan</b></h2>
<div class="hl" style="left:1208.70px;width:95.0px;top:549px">DH</div>
<div class="hl" style="left:1305.20px;width:95.40px;top:549px">HD</div>
<div class="b" style="left:1208.70px;top:579px;color:#e9e9ea">E</div>
<div class="m" style="left:1235.70px;top:579px">01.55</div>
<div class="b" style="left:1208.70px;top:609px;color:#fbfbfb">U</div>
<div class="m" style="left:1235.70px;top:609px">08.05</div>
<div class="b" style="left:1208.70px;top:640px;color:#e9e9ea">E</div>
<div class="m" style="left:1235.70px;top:640px">14.15</div>
<div class="b" style="left:1208.70px;top:671px;color:#fbfbfb">U</div>
<div class="m" style="left:1235.70px;top:671px">20.55</div>
<div class="b" style="left:1305.20px;top:579px;color:#fbfbfb">U</div>
<div class="m" style="left:1332.20px;top:579px">02.40</div>
<div class="b" style="left:1305.20px;top:609px;color:#e9e9ea">E</div>
<div class="m" style="left:1332.20px;top:609px">08.00</div>
<div class="b" style="left:1305.20px;top:640px;color:#fbfbfb">U</div>
<div class="m" style="left:1332.20px;top:640px">14.10</div>
<div class="b" style="left:1305.20px;top:671px;color:#e9e9ea">E</div>
<div class="m" style="left:1332.20px;top:671px">20.00</div>
</section>
<section class="day">
<h2 class="t" style="left:1407.50px;top:518px"><span style="margin-left:1.22px">Wednesday</span> <b style="margin-right:5.03px">10th Jan</b></h2>
<div class="hl" style="left:1407.50px;width:95.0px;top:549px">DH</div>
<div class="hl" style="left:1504.00px;width:95.40px;top:549px">HD</div>
<div class="b" style="left:1407.50px;top:579px;color:#e9e9ea">E</div>
<div class="m" style="left:1434.50px;top:579px">01.55</div>
<div class="b" style="left:1407.50px;top:609px;color:#fbfbfb">U</div>
<div class="m" style="left:1434.50px;top:609px">08.05</div>
<div class="b" style="left:1407.50px;top:640px;color:#e9e9ea">E</div>
<div class="m" style="left:1434.50px;top:640px">14.15</div>
<div class="b" style="left:1407.50px;top:671px;color:#fbfbfb">U</div>
<div class="m" style="left:1434.50px;top:671px">20.55</div>
<div class="b" style="left:1504.00px;top:579px;color:#fbfbfb">U</div>
<div class="m" style="left:1531.00px;top:579px">02.40</div>
<div class="b" style="left:1504.00px;top:609px;color:#e9e9ea">E</div>
<div class="m" style="left:1531.00px;top:609px">08.00</div>
<div class="b" style="left:1504.00px;top:640px;color:#fbfbfb">U</div>
<div class="m" style="left:1531.00px;top:640px">14.10</div>
<div class="b" style="left:1504.00px;top:671px;color:#e9e9ea">E</div>
<div class="m" style="left:1531.00px;top:671px">20.00</div>
</section>
</main>
</body>
</html>
